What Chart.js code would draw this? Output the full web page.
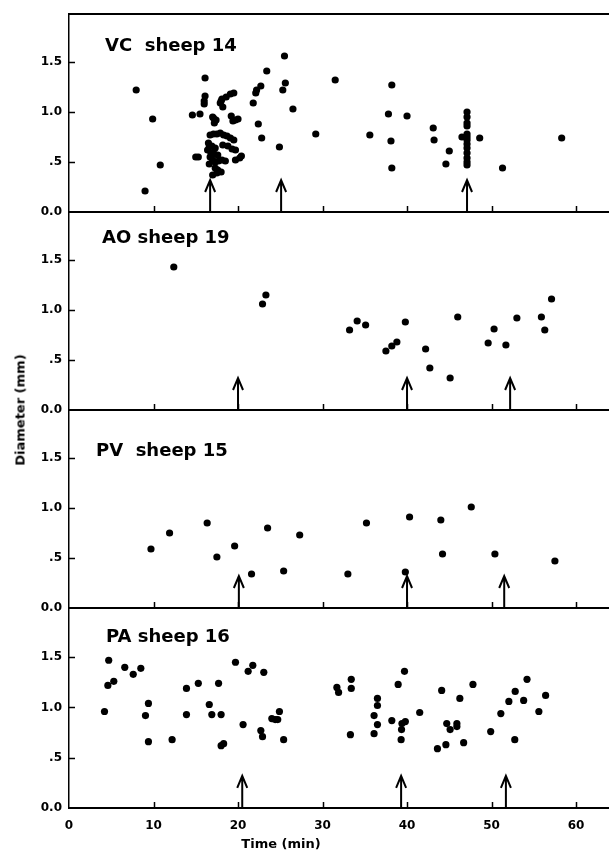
<!DOCTYPE html>
<html><head><meta charset="utf-8">
<script src="https://cdn.jsdelivr.net/npm/chart.js@4.4.1/dist/chart.umd.min.js"></script>
<style>
body{margin:0;background:#fff;width:609px;height:854px;position:relative;overflow:hidden;font-family:"DejaVu Sans",Verdana,sans-serif;}
.pane{position:absolute;left:0;width:609px;}
.lbl{position:absolute;font-weight:bold;font-size:18px;color:#000;white-space:pre;line-height:18px;}
#ytitle{position:absolute;left:20px;top:410px;transform:translate(-50%,-50%) rotate(-90deg);font-weight:bold;font-size:13px;white-space:nowrap;}
#xtitle{position:absolute;left:281px;top:843px;transform:translate(-50%,-50%);font-weight:bold;font-size:13px;white-space:nowrap;}
</style></head><body>
<div class="pane" id="p0"><canvas id="c0"></canvas></div>
<div class="pane" id="p1"><canvas id="c1"></canvas></div>
<div class="pane" id="p2"><canvas id="c2"></canvas></div>
<div class="pane" id="p3"><canvas id="c3"></canvas></div>
<div class="lbl" style="left:105px;top:36px;">VC  sheep 14</div>
<div class="lbl" style="left:102px;top:228px;">AO sheep 19</div>
<div class="lbl" style="left:96px;top:441px;">PV  sheep 15</div>
<div class="lbl" style="left:106px;top:627px;">PA sheep 16</div>
<div id="ytitle">Diameter (mm)</div>
<div id="xtitle">Time (min)</div>
<script>
// ---- data ----
const xTicks = [0, 10, 20, 30, 40, 50, 60];
const yTicks = [0, 0.5, 1.0, 1.5];
const yTickLabels = ['0.0', '.5', '1.0', '1.5'];

const vcX = [7.95,9.9,10.8,9.0,14.6,15.5,15.0,15.3,16.1,16.1,16.0,16.0,
  18.1,18.6,19.1,19.5,17.9,18.2,18.0,17.1,17.4,17.2,17.0,19.2,19.4,19.7,20.0,
  16.7,17.1,17.5,17.9,18.3,18.7,19.1,19.5,16.5,16.9,17.3,18.2,18.8,19.3,19.7,16.6,
  16.4,16.8,17.2,17.6,16.7,17.0,17.3,17.7,18.1,18.5,19.7,20.2,20.4,
  17.3,17.6,17.0,17.5,18.0,16.6,
  21.8,22.1,22.2,22.7,23.4,22.4,22.8,25.5,25.6,25.3,24.9,26.5,29.2,31.5,38.2,37.8,40.0,35.6,38.1,38.2,
  43.1,43.2,45.0,44.6,
  47.1,47.1,47.1,47.1,47.1,47.1,47.1,47.1,47.1,47.1,47.1,47.1,47.1,
  46.5,48.6,51.3,58.3];
const vcY = [1.22,0.93,0.47,0.21,0.97,0.98,0.55,0.55,1.34,1.16,1.11,1.08,
  1.13,1.15,1.18,1.19,1.09,1.05,1.11,0.94,0.92,0.89,0.95,0.96,0.91,0.92,0.93,
  0.77,0.78,0.78,0.79,0.77,0.76,0.74,0.72,0.69,0.66,0.64,0.67,0.66,0.63,0.62,0.65,
  0.62,0.59,0.58,0.57,0.55,0.52,0.50,0.51,0.52,0.51,0.52,0.54,0.56,
  0.44,0.42,0.37,0.39,0.40,0.48,
  1.09,1.19,1.22,1.26,1.41,0.88,0.74,1.56,1.29,1.22,0.65,1.03,0.78,1.32,1.27,0.98,0.96,0.77,0.71,0.44,
  0.84,0.72,0.61,0.48,
  1.00,0.95,0.89,0.86,0.78,0.75,0.72,0.68,0.64,0.59,0.54,0.50,0.47,
  0.75,0.74,0.44,0.74];
const vcArrows = [16.7, 25.1, 47.1];

const aoX = [12.4,22.9,23.3,33.2,34.1,35.1,37.5,38.2,38.8,39.8,42.2,42.7,45.1,46.0,49.6,50.3,51.7,53.0,55.9,56.3,57.1];
const aoY = [1.43,1.06,1.15,0.80,0.89,0.85,0.59,0.64,0.68,0.88,0.61,0.42,0.32,0.93,0.67,0.81,0.65,0.92,0.93,0.80,1.11];
const aoArrows = [20.0, 40.0, 52.2];

const pvX = [9.7,11.9,16.35,17.5,19.6,21.6,23.5,25.4,27.3,33.0,35.2,39.8,40.3,44.0,44.2,47.6,50.4,57.5];
const pvY = [0.59,0.75,0.85,0.51,0.62,0.34,0.80,0.37,0.73,0.34,0.85,0.36,0.91,0.88,0.54,1.01,0.54,0.47];
const pvArrows = [20.1, 40.0, 51.5];

const paX = [4.2,4.7,4.6,5.3,6.6,7.6,8.5,9.05,9.4,9.4,12.2,13.9,13.9,15.3,16.6,16.9,17.7,18.0,18.0,18.3,
  19.7,20.6,21.2,21.75,23.05,22.7,22.9,24.0,24.4,24.7,24.9,25.4,31.7,31.9,33.4,33.4,33.3,
  36.5,36.5,36.1,36.5,36.1,38.2,38.95,39.7,39.4,39.8,39.35,39.3,41.5,43.6,44.6,44.1,44.7,45.1,
  45.9,45.9,46.25,46.7,47.8,49.9,51.1,52.05,52.8,52.75,53.8,54.2,55.6,56.4];
const paY = [0.96,1.47,1.22,1.26,1.40,1.33,1.39,0.92,1.04,0.66,0.68,1.19,0.93,1.24,1.03,0.93,1.24,0.93,0.62,0.64,
  1.45,0.83,1.36,1.42,1.35,0.77,0.71,0.89,0.88,0.88,0.96,0.68,1.20,1.15,1.28,1.19,0.73,
  1.09,1.02,0.92,0.83,0.74,0.87,1.23,1.36,0.84,0.86,0.78,0.68,0.95,0.59,0.63,1.17,0.84,0.78,
  0.84,0.81,1.09,0.65,1.23,0.76,0.94,1.06,1.16,0.68,1.07,1.28,0.96,1.12];
const paArrows = [20.5, 39.3, 51.7];

// ---- layout ----
const X_MAX = 63.9, Y_MAX = 1.98, ARROW_TOP = 0.32;
const panels = [
  {xs: vcX, ys: vcY, arrows: vcArrows, top: 14, bottom: 212, topBorder: true, showX: false},
  {xs: aoX, ys: aoY, arrows: aoArrows, top: 212, bottom: 410, topBorder: false, showX: false},
  {xs: pvX, ys: pvY, arrows: pvArrows, top: 410, bottom: 608, topBorder: false, showX: false},
  {xs: paX, ys: paY, arrows: paArrows, top: 609, bottom: 808, topBorder: false, showX: true}
];

const decor = {
  id: 'decor',
  afterDraw(chart) {
    const o = chart.options.plugins.decor;
    const {ctx, chartArea: a, scales: {x, y}} = chart;
    ctx.save();
    ctx.strokeStyle = '#000';
    ctx.lineWidth = 1.5;
    ctx.beginPath();
    x.ticks.forEach(t => {
      if (t.value === 0) return;
      const px = Math.round(x.getPixelForValue(t.value)) + 0.5;
      ctx.moveTo(px, a.bottom); ctx.lineTo(px, a.bottom - 6);
    });
    y.ticks.forEach(t => {
      if (t.value === 0) return;
      const py = Math.round(y.getPixelForValue(t.value)) + 0.5;
      ctx.moveTo(a.left, py); ctx.lineTo(a.left + 6, py);
    });
    ctx.stroke();
    if (o.topBorder) {
      ctx.lineWidth = 2;
      ctx.beginPath();
      ctx.moveTo(a.left, a.top); ctx.lineTo(a.right, a.top);
      ctx.stroke();
    }
    ctx.lineWidth = 2;
    ctx.lineJoin = 'miter';
    o.arrows.forEach(v => {
      const px = x.getPixelForValue(v);
      const y0 = y.getPixelForValue(0);
      const y1 = y.getPixelForValue(ARROW_TOP);
      ctx.beginPath();
      ctx.moveTo(px, y0); ctx.lineTo(px, y1);
      ctx.moveTo(px - 5, y1 + 12); ctx.lineTo(px, y1); ctx.lineTo(px + 5, y1 + 12);
      ctx.stroke();
    });
    ctx.restore();
  }
};

const PAD_TOP = 6;
panels.forEach((p, i) => {
  const xh = p.showX ? 30 : 4;
  const h = (p.bottom - p.top) + PAD_TOP + xh;
  const pane = document.getElementById('p' + i);
  pane.style.top = (p.top - PAD_TOP) + 'px';
  pane.style.height = h + 'px';
  const cv = document.getElementById('c' + i);
  cv.width = 609; cv.height = h;
  new Chart(cv, {
    type: 'scatter',
    data: {datasets: [{
      data: p.xs.map((v, k) => ({x: v, y: p.ys[k]})),
      backgroundColor: '#000', borderColor: '#000', borderWidth: 0,
      pointRadius: 3.6, pointHoverRadius: 3.6
    }]},
    options: {
      responsive: false, animation: false, devicePixelRatio: 1,
      layout: {autoPadding: false, padding: {top: PAD_TOP, left: 0, right: 0, bottom: 0}},
      plugins: {legend: {display: false}, tooltip: {enabled: false},
        decor: {arrows: p.arrows, topBorder: p.topBorder}},
      scales: {
        x: {
          type: 'linear', min: 0, max: X_MAX,
          afterBuildTicks: s => { s.ticks = xTicks.map(v => ({value: v})); },
          afterFit: s => { s.height = xh; s.paddingLeft = 0; s.paddingRight = 0; },
          grid: {display: false, drawTicks: false},
          border: {display: true, color: '#000', width: 2},
          ticks: {display: p.showX, padding: 11, color: '#000',
            font: {family: 'DejaVu Sans', weight: 'bold', size: 12},
            callback: v => String(v), maxRotation: 0, autoSkip: false}
        },
        y: {
          type: 'linear', min: 0, max: Y_MAX,
          afterBuildTicks: s => { s.ticks = yTicks.map(v => ({value: v})); },
          afterFit: s => { s.width = 69; s.paddingTop = 0; s.paddingBottom = 0; },
          grid: {display: false, drawTicks: false},
          border: {display: true, color: '#000', width: 1.5},
          ticks: {padding: 7, color: '#000',
            font: {family: 'DejaVu Sans', weight: 'bold', size: 12},
            callback: (v, idx) => yTickLabels[idx]}
        }
      }
    },
    plugins: [decor]
  });
});
</script>
</body></html>
